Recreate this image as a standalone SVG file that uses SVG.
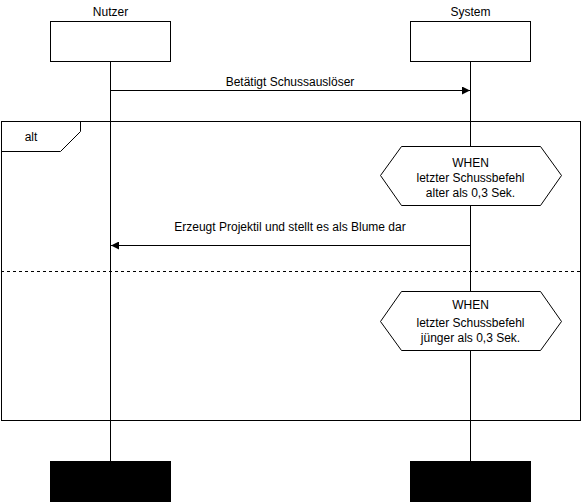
<svg xmlns="http://www.w3.org/2000/svg" width="582" height="502" viewBox="0 0 582 502">
<style>
text{font-family:"Liberation Sans",Arial,Helvetica,sans-serif;font-size:12px;fill:#000;text-anchor:middle}
.box{fill:#fff;stroke:#000;stroke-width:1}
.life{stroke:#000;stroke-width:1;fill:none}
.msg{stroke:#000;stroke-width:1;fill:none}
.frame{fill:none;stroke:#000;stroke-width:1}
</style>
<defs>
<marker id="ah" viewBox="0 0 10 10" refX="10" refY="5" markerWidth="8" markerHeight="8" markerUnits="userSpaceOnUse" orient="auto">
<path d="M0,0 L10,5 L0,10 Z" fill="#000"/>
</marker>
</defs>
<rect width="582" height="502" fill="#fff"/>
<g id="lifelines">
<line class="life" x1="110.5" y1="61" x2="110.5" y2="461"/>
<line class="life" x1="470.5" y1="61" x2="470.5" y2="461"/>
</g>
<g id="nutzer">
<text x="110.5" y="16">Nutzer</text>
<rect class="box" x="50.5" y="21.5" width="120" height="40"/>
<rect x="50" y="461" width="121" height="41" fill="#000"/>
</g>
<g id="system">
<text x="470.5" y="16">System</text>
<rect class="box" x="410.5" y="21.5" width="120" height="40"/>
<rect x="410" y="461" width="121" height="41" fill="#000"/>
</g>
<g id="alt-frame">
<rect class="frame" x="1.5" y="121.5" width="579" height="299"/>
<path class="frame" d="M1.5,121.5 H80.5 V131.5 L60.5,151.5 H1.5"/>
<text x="31" y="141">alt</text>
<line x1="1" y1="271.5" x2="581" y2="271.5" stroke="#000" stroke-width="1" stroke-dasharray="3,3"/>
</g>
<g id="cond1">
<polygon class="box" points="380.5,175.5 401.5,146.5 540.5,146.5 561.5,175.5 540.5,205.5 401.5,205.5"/>
<text x="470.5" y="167">WHEN</text>
<text x="470.5" y="182">letzter Schussbefehl</text>
<text x="470.5" y="197">alter als 0,3 Sek.</text>
</g>
<g id="cond2">
<polygon class="box" points="380.5,321.5 401.5,291.5 540.5,291.5 561.5,321.5 540.5,350.5 401.5,350.5"/>
<text x="470.5" y="309">WHEN</text>
<text x="470.5" y="327">letzter Schussbefehl</text>
<text x="470.5" y="342">jünger als 0,3 Sek.</text>
</g>
<g id="connectors">
<line class="msg" x1="110.5" y1="90.5" x2="470" y2="90.5" marker-end="url(#ah)"/>
<text x="290" y="86">Betätigt Schussauslöser</text>
<line class="msg" x1="470.5" y1="245.5" x2="111" y2="245.5" marker-end="url(#ah)"/>
<text x="290" y="231">Erzeugt Projektil und stellt es als Blume dar</text>
</g>
</svg>
